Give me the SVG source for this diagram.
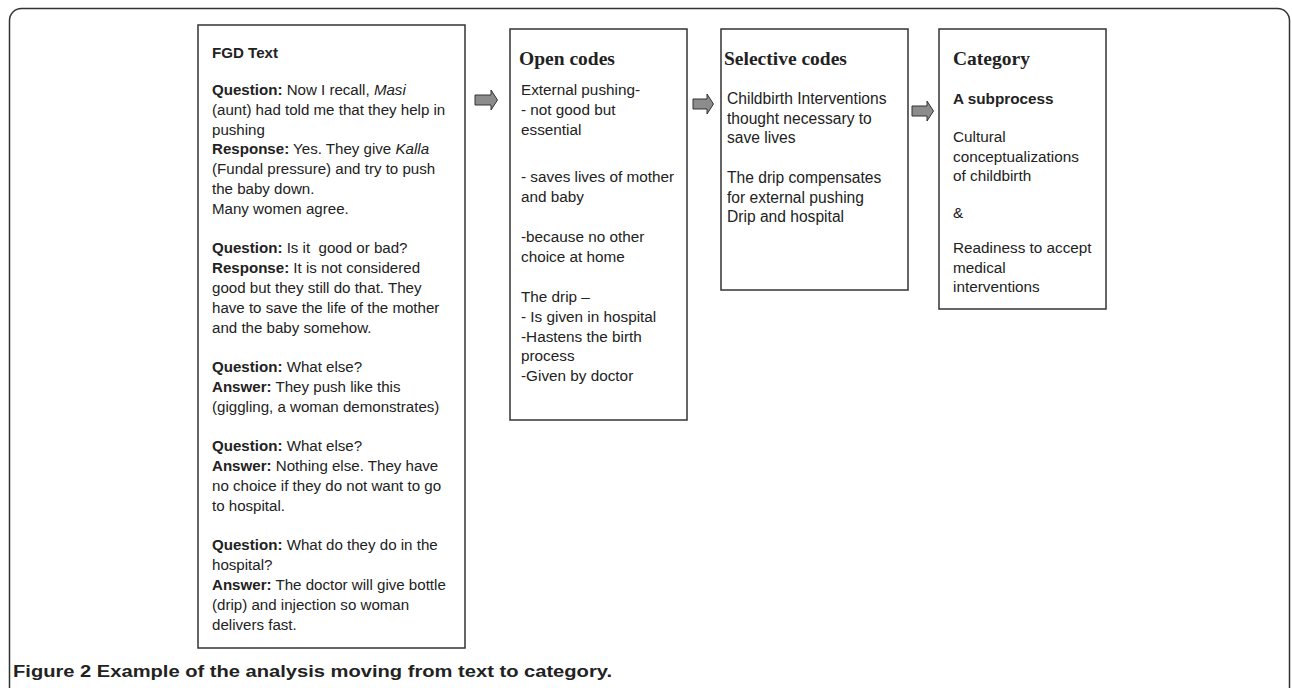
<svg xmlns="http://www.w3.org/2000/svg" width="1292" height="688" viewBox="0 0 1292 688">
<style>
.frame{fill:none;stroke:#333;stroke-width:1.5}
.box{fill:#fff;stroke:#333;stroke-width:1.5}
.t{font-family:"Liberation Sans",Arial,sans-serif;font-size:15.3px;fill:#222}
.f{font-size:15.1px}
.s{font-size:15.6px}
.h{font-family:"Liberation Serif","Times New Roman",serif;font-size:19.5px;font-weight:bold;fill:#222}
.b{font-weight:bold}
.i{font-style:italic}
.arrow{fill:#8c8c8c;stroke:#333;stroke-width:1}
.cap{font-family:"Liberation Sans",Arial,sans-serif;font-size:16px;font-weight:bold;fill:#222}
</style>
<rect class="frame" x="9.5" y="8.5" width="1280" height="730" rx="12"/>
<g id="fgd">
<rect class="box" x="198" y="25" width="267" height="623"/>
<text class="t f" x="212">
<tspan class="b" x="212" y="58">FGD Text</tspan>
<tspan x="212" y="95"><tspan class="b">Question:</tspan> Now I recall, <tspan class="i">Masi</tspan></tspan>
<tspan x="212" y="114.8">(aunt) had told me that they help in</tspan>
<tspan x="212" y="134.6">pushing</tspan>
<tspan x="212" y="154.4"><tspan class="b">Response:</tspan> Yes. They give <tspan class="i">Kalla</tspan></tspan>
<tspan x="212" y="174.2">(Fundal pressure) and try to push</tspan>
<tspan x="212" y="194">the baby down.</tspan>
<tspan x="212" y="213.8">Many women agree.</tspan>
<tspan x="212" y="253.4"><tspan class="b">Question:</tspan> Is it&#160; good or bad?</tspan>
<tspan x="212" y="273.2"><tspan class="b">Response:</tspan> It is not considered</tspan>
<tspan x="212" y="293">good but they still do that. They</tspan>
<tspan x="212" y="312.8">have to save the life of the mother</tspan>
<tspan x="212" y="332.6">and the baby somehow.</tspan>
<tspan x="212" y="372.2"><tspan class="b">Question:</tspan> What else?</tspan>
<tspan x="212" y="392"><tspan class="b">Answer:</tspan> They push like this</tspan>
<tspan x="212" y="411.8">(giggling, a woman demonstrates)</tspan>
<tspan x="212" y="451.4"><tspan class="b">Question:</tspan> What else?</tspan>
<tspan x="212" y="471.2"><tspan class="b">Answer:</tspan> Nothing else. They have</tspan>
<tspan x="212" y="491">no choice if they do not want to go</tspan>
<tspan x="212" y="510.8">to hospital.</tspan>
<tspan x="212" y="550.4"><tspan class="b">Question:</tspan> What do they do in the</tspan>
<tspan x="212" y="570.2">hospital?</tspan>
<tspan x="212" y="590"><tspan class="b">Answer:</tspan> The doctor will give bottle</tspan>
<tspan x="212" y="609.8">(drip) and injection so woman</tspan>
<tspan x="212" y="629.6">delivers fast.</tspan>
</text>
</g>
<g id="open-codes">
<rect class="box" x="510" y="29" width="177" height="391"/>
<text class="h" x="519" y="65">Open codes</text>
<text class="t">
<tspan x="521" y="95">External pushing-</tspan>
<tspan x="521" y="115">- not good but</tspan>
<tspan x="521" y="135">essential</tspan>
<tspan x="521" y="182">- saves lives of mother</tspan>
<tspan x="521" y="202">and baby</tspan>
<tspan x="521" y="242">-because no other</tspan>
<tspan x="521" y="262">choice at home</tspan>
<tspan x="521" y="302">The drip –</tspan>
<tspan x="521" y="322">- Is given in hospital</tspan>
<tspan x="521" y="342">-Hastens the birth</tspan>
<tspan x="521" y="361">process</tspan>
<tspan x="521" y="381">-Given by doctor</tspan>
</text>
</g>
<g id="selective-codes">
<rect class="box" x="721" y="29" width="187" height="261"/>
<text class="h" x="724" y="65">Selective codes</text>
<text class="t s">
<tspan x="727" y="104">Childbirth Interventions</tspan>
<tspan x="727" y="124">thought necessary to</tspan>
<tspan x="727" y="143">save lives</tspan>
<tspan x="727" y="183">The drip compensates</tspan>
<tspan x="727" y="203">for external pushing</tspan>
<tspan x="727" y="222">Drip and hospital</tspan>
</text>
</g>
<g id="category">
<rect class="box" x="939" y="29" width="167" height="280"/>
<text class="h" x="953" y="65">Category</text>
<text class="t">
<tspan class="b" x="953" y="104">A subprocess</tspan>
<tspan x="953" y="142">Cultural</tspan>
<tspan x="953" y="162">conceptualizations</tspan>
<tspan x="953" y="181">of childbirth</tspan>
<tspan x="953" y="218">&amp;</tspan>
<tspan x="953" y="253">Readiness to accept</tspan>
<tspan x="953" y="273">medical</tspan>
<tspan x="953" y="292">interventions</tspan>
</text>
</g>
<g id="connectors">
<path class="arrow" d="M475,95 H491 V90 L497.5,100 L491,110 V105 H475 Z"/>
<path class="arrow" d="M693,99 H707 V94 L713.5,104 L707,114 V109 H693 Z"/>
<path class="arrow" d="M912,106 H927 V101 L933.5,111 L927,121 V116 H912 Z"/>
</g>
<text class="cap" x="13" y="677" textLength="599" lengthAdjust="spacingAndGlyphs">Figure 2 Example of the analysis moving from text to category.</text>
</svg>
